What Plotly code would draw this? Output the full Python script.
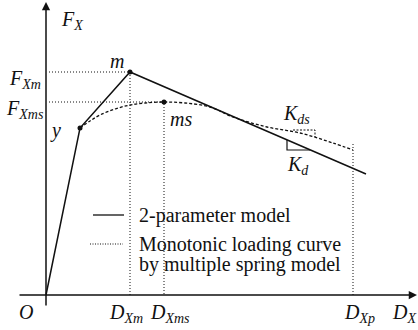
import plotly.graph_objects as go

# 2-parameter skeleton: origin -> yield point y -> peak m -> descending branch end
model_d = [0, 34, 84, 320]
model_f = [0, 167, 223, 121]

# Monotonic loading curve from the multiple spring model (from the yield point on;
# below it the curve coincides with the elastic branch of the model)
mono_d = [34, 44, 54, 69, 84, 99, 118, 139, 164, 187, 221, 254, 287, 307]
mono_f = [167, 174, 180, 186, 190, 192, 193, 192, 188, 178, 168, 162, 152, 145]

# Characteristic points
yield_pt = (34, 167)
peak_pt = (84, 223)      # m   : (D_Xm,  F_Xm)
mono_peak = (118, 193)   # ms  : (D_Xms, F_Xms)
d_xp = 307               # ultimate displacement D_Xp

# Slope triangles (K_d on the model, K_ds on the monotonic curve)
kd_tri_d = [241, 241, 264]
kd_tri_f = [155, 145, 145]
kds_tri_d = [247, 269, 269]
kds_tri_f = [165, 165, 158]

# Legend rows
legend_rows = ["2-parameter model", "Monotonic loading curve", "by multiple spring model"]

X_RANGE = [-46, 372]
Y_RANGE = [-35, 295]

SERIF = "Liberation Serif, Times New Roman, serif"
INK = "#111111"

fig = go.Figure()

# Dotted guide lines
guide = dict(color=INK, width=1, dash="1px,2px")
fig.add_trace(go.Scatter(x=[3, peak_pt[0], peak_pt[0]], y=[peak_pt[1], peak_pt[1], 0],
                         mode="lines", line=guide, hoverinfo="skip"))
fig.add_trace(go.Scatter(x=[3, mono_peak[0], mono_peak[0]], y=[mono_peak[1], mono_peak[1], 0],
                         mode="lines", line=guide, hoverinfo="skip"))
fig.add_trace(go.Scatter(x=[d_xp, d_xp], y=[0, 152],
                         mode="lines", line=guide, hoverinfo="skip"))

# Monotonic curve
fig.add_trace(go.Scatter(x=mono_d, y=mono_f, mode="lines", line_shape="spline",
                         line=dict(color=INK, width=1.3, dash="3px,2px"), hoverinfo="skip"))
# 2-parameter model
fig.add_trace(go.Scatter(x=model_d, y=model_f, mode="lines",
                         line=dict(color=INK, width=1.5), hoverinfo="skip"))

# Slope triangles
fig.add_trace(go.Scatter(x=kd_tri_d, y=kd_tri_f, mode="lines",
                         line=dict(color=INK, width=1.2), hoverinfo="skip"))
fig.add_trace(go.Scatter(x=kds_tri_d, y=kds_tri_f, mode="lines",
                         line=dict(color=INK, width=1, dash="2px,1.5px"), hoverinfo="skip"))

# Point markers
fig.add_trace(go.Scatter(x=[yield_pt[0], peak_pt[0], mono_peak[0]],
                         y=[yield_pt[1], peak_pt[1], mono_peak[1]],
                         mode="markers", marker=dict(color=INK, size=5), hoverinfo="skip"))

# Legend samples
fig.add_trace(go.Scatter(x=[47, 78], y=[80, 80], mode="lines",
                         line=dict(color=INK, width=1.3), hoverinfo="skip"))
fig.add_trace(go.Scatter(x=[44, 77], y=[51, 51], mode="lines",
                         line=dict(color=INK, width=1, dash="1px,1.5px"), hoverinfo="skip"))

annotations = []

# Axes drawn as arrows
annotations.append(dict(x=0, y=Y_RANGE[1] - 2, ax=0, ay=-12, xref="x", yref="y",
                        axref="x", ayref="y", text="", showarrow=True,
                        arrowhead=2, arrowsize=1.1, arrowwidth=1.5, arrowcolor=INK))
annotations.append(dict(x=X_RANGE[1] - 1, y=0, ax=-28, ay=0, xref="x", yref="y",
                        axref="x", ayref="y", text="", showarrow=True,
                        arrowhead=2, arrowsize=1.1, arrowwidth=1.5, arrowcolor=INK))


def label(text, x, y, xanchor="left", yanchor="middle", size=20):
    annotations.append(dict(x=x, y=y, xref="x", yref="y", text=text, showarrow=False,
                            xanchor=xanchor, yanchor=yanchor,
                            font=dict(family=SERIF, size=size, color=INK)))


label("<i>F<sub>X</sub></i>", 13, 275)
label("<i>F<sub>Xm</sub></i>", -3, 216, xanchor="right")
label("<i>F<sub>Xms</sub></i>", 0, 186, xanchor="right")
label("<i>m</i>", 71, 234, xanchor="center")
label("<i>y</i>", 9, 165, xanchor="center")
label("<i>ms</i>", 135, 176, xanchor="center")
label("<i>K<sub>ds</sub></i>", 235, 181)
label("<i>K<sub>d</sub></i>", 239, 130)
label("<i>O</i>", -20, -17, xanchor="center")
label("<i>D<sub>Xm</sub></i>", 61, -18)
label("<i>D<sub>Xms</sub></i>", 102, -18)
label("<i>D<sub>Xp</sub></i>", 296, -18)
label("<i>D<sub>X</sub></i>", 344, -18)

label(legend_rows[0], 91, 80)
label(legend_rows[1], 91, 51)
label(legend_rows[2], 91, 31)

fig.update_layout(
    width=418, height=330,
    margin=dict(l=0, r=0, t=0, b=0),
    paper_bgcolor="white", plot_bgcolor="white",
    showlegend=False,
    xaxis=dict(range=X_RANGE, visible=False, fixedrange=True),
    yaxis=dict(range=Y_RANGE, visible=False, fixedrange=True),
    annotations=annotations,
)

fig.write_html("out.html")
